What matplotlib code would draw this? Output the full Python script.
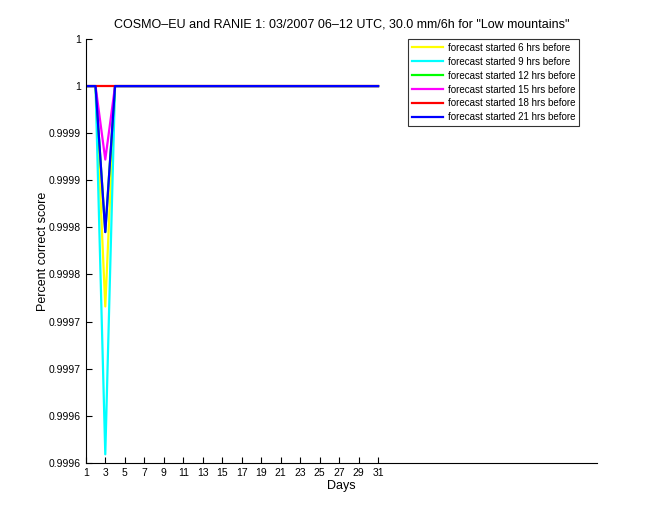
import matplotlib
matplotlib.use("Agg")
import matplotlib.pyplot as plt
import numpy as np

plt.rcParams['font.family'] = ['Liberation Sans', 'DejaVu Sans']

days = list(range(1, 32))
labels = ["forecast started 6 hrs before", "forecast started 9 hrs before",
          "forecast started 12 hrs before", "forecast started 15 hrs before",
          "forecast started 18 hrs before", "forecast started 21 hrs before"]
colors = ["#ffff00", "#00ffff", "#00ff00", "#ff00ff", "#ff0000", "#0000ff"]

# day-3 values (all other days are 1)
yellow = [1, 1, 0.999766] + [1] * 28
cyan = [1, 1, 0.999609] + [1] * 28
green = [1, 1, 0.999845] + [1] * 28
magenta = [1, 1, 0.999922] + [1] * 28
red = [1] * 31
blue = [1, 1, 0.999845] + [1] * 28
series = [yellow, cyan, green, magenta, red, blue]

yticks = [0.9996, 0.99965, 0.9997, 0.99975, 0.9998, 0.99985, 0.9999, 0.99995, 1.0, 1.00005]
yticklabels = ["0.9996", "0.9996", "0.9997", "0.9997", "0.9998", "0.9998",
               "0.9999", "0.9999", "1", "1"]
xticks = list(range(1, 32, 2))

fig = plt.figure(figsize=(6.6, 5.2), dpi=100)
ax = fig.add_axes([0.13, 0.11, 0.775, 0.815])
for s, c, l in zip(series, colors, labels):
    ax.plot(days, s, color=c, lw=1.6, label=l)

ax.set_xlim(1, 53.5)
ax.set_ylim(0.9996, 1.00005)
ax.set_xticks(xticks)
ax.set_xticklabels([str(t) for t in xticks], fontsize=7.5)
ax.set_yticks(yticks)
ax.set_yticklabels(yticklabels, fontsize=7.5)
ax.tick_params(direction='in', length=4, width=0.8)
ax.spines['top'].set_visible(False)
ax.spines['right'].set_visible(False)
ax.set_xlabel("Days", fontsize=9, labelpad=2)
ax.set_ylabel("Percent correct score", fontsize=9, labelpad=0)
ax.set_title('COSMO\u2013EU and RANIE 1: 03/2007 06\u201312 UTC, 30.0 mm/6h for "Low mountains"',
             fontsize=9, pad=8)
leg = ax.legend(loc='upper right', bbox_to_anchor=(0.965, 1.0), fontsize=7,
                frameon=True, fancybox=False, edgecolor='black', borderpad=0.4,
                labelspacing=0.4, handlelength=3.2, handletextpad=0.5, borderaxespad=0.0)
leg.get_frame().set_linewidth(0.8)
fig.savefig("out.png", dpi=100)
